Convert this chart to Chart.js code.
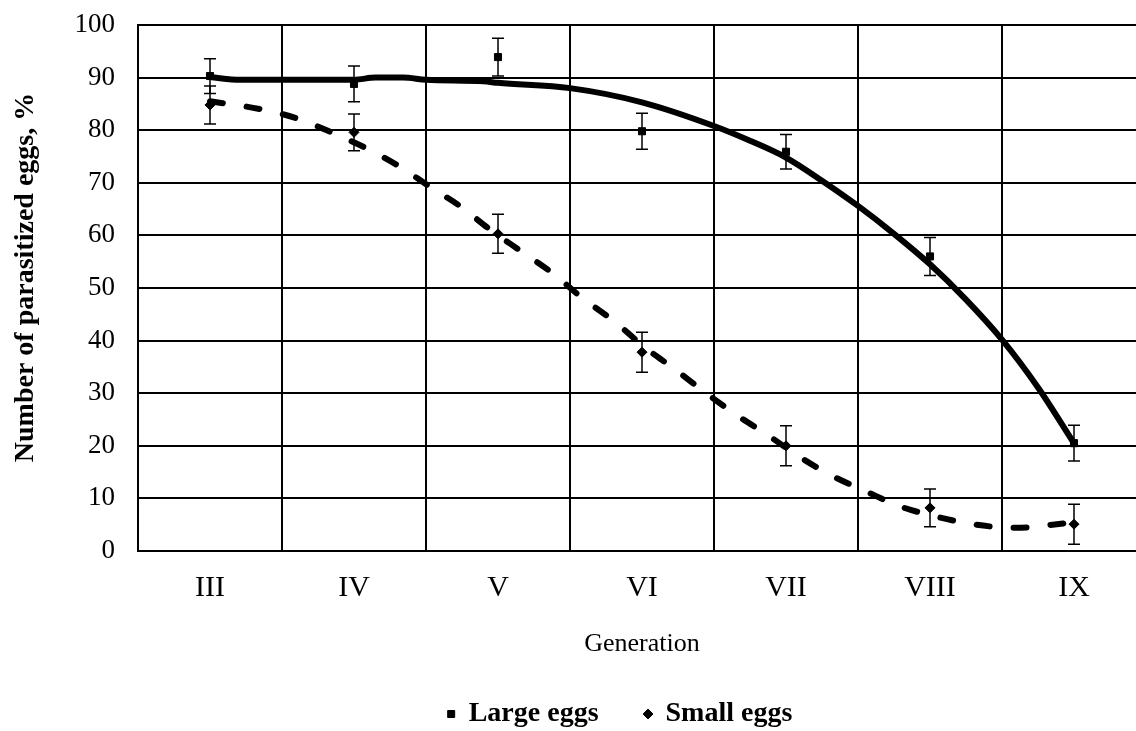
<!DOCTYPE html>
<html>
<head>
<meta charset="utf-8">
<script src="https://cdn.jsdelivr.net/npm/chart.js@4/dist/chart.umd.min.js"></script>
<style>
html, body { margin: 0; padding: 0; overflow: hidden; background: #fff; }
</style>
</head>
<body>
<canvas id="chart" width="1240" height="738"></canvas>
<script>
const generations = ['III', 'IV', 'V', 'VI', 'VII', 'VIII', 'IX'];
const largeEggs = [90.3, 88.8, 93.9, 79.8, 75.9, 56.0, 20.5];
const largeErr = [3.3, 3.4, 3.6, 3.4, 3.3, 3.6, 3.4];
const smallEggs = [84.8, 79.6, 60.3, 37.8, 20.0, 8.2, 5.1];
const smallErr = [3.6, 3.5, 3.7, 3.8, 3.8, 3.6, 3.8];

// trend lines (x = generation index, 0 = III)
const largeTrendX = [0, 0.21, 0.6, 1, 1.15, 1.34, 1.5, 1.9, 2, 2.5, 3, 3.5, 3.75, 4, 4.25, 4.5, 4.75, 5, 5.25, 5.5, 5.75, 6];
const largeTrendY = [90.1, 89.6, 89.6, 89.6, 90.0, 90.0, 89.6, 89.3, 89.0, 88.0, 85.3, 80.8, 78.0, 74.8, 70.4, 65.6, 60.3, 54.5, 47.8, 40.2, 31.1, 20.5];
const smallTrendX = [0, 0.35, 0.61, 0.85, 1.09, 1.31, 1.53, 1.74, 1.95, 2.16, 2.38, 2.59, 2.81, 3.02, 3.23, 3.44, 3.66, 3.88, 4.1, 4.32, 4.55, 4.79, 5.05, 5.32, 5.6, 5.88, 6];
const smallTrendY = [85.5, 84.0, 82.2, 79.5, 76.5, 73.2, 69.2, 65.5, 61.0, 57.0, 52.8, 48.0, 43.6, 38.7, 34.5, 30.1, 25.8, 21.9, 17.8, 14.3, 11.4, 8.5, 6.5, 5.0, 4.4, 5.1, 5.5];

const serif = 'Liberation Serif';

// draws the +/- whiskers under the markers
const errorBars = {
    id: 'errorBars',
    beforeDatasetsDraw(chart) {
        const ctx = chart.ctx;
        const y = chart.scales.y;
        chart.data.datasets.forEach((ds, i) => {
            if (!ds.errors) return;
            const meta = chart.getDatasetMeta(i);
            ctx.save();
            ctx.strokeStyle = '#000';
            ctx.lineWidth = 1.5;
            meta.data.forEach((pt, j) => {
                const top = y.getPixelForValue(ds.data[j] + ds.errors[j]);
                const bot = y.getPixelForValue(ds.data[j] - ds.errors[j]);
                ctx.beginPath();
                ctx.moveTo(pt.x, top); ctx.lineTo(pt.x, bot);
                ctx.moveTo(pt.x - 6, top); ctx.lineTo(pt.x + 6, top);
                ctx.moveTo(pt.x - 6, bot); ctx.lineTo(pt.x + 6, bot);
                ctx.stroke();
            });
            ctx.restore();
        });
    }
};

const ctx = document.getElementById('chart').getContext('2d');
new Chart(ctx, {
    type: 'line',
    data: {
        labels: generations,
        datasets: [
            {
                label: 'Large eggs',
                data: largeEggs,
                errors: largeErr,
                showLine: false,
                pointStyle: 'rect',
                pointRadius: 5,
                backgroundColor: '#000',
                borderColor: '#000',
                xAxisID: 'x'
            },
            {
                label: 'Small eggs',
                data: smallEggs,
                errors: smallErr,
                showLine: false,
                pointStyle: 'rectRot',
                pointRadius: 5,
                backgroundColor: '#000',
                borderColor: '#000',
                xAxisID: 'x'
            },
            {
                label: 'trend large',
                data: largeTrendX.map((x, i) => ({ x: x, y: largeTrendY[i] })),
                xAxisID: 'xt',
                borderColor: '#000',
                borderWidth: 6,
                pointRadius: 0,
                cubicInterpolationMode: 'monotone',
                borderCapStyle: 'round',
                borderJoinStyle: 'round'
            },
            {
                label: 'trend small',
                data: smallTrendX.map((x, i) => ({ x: x, y: smallTrendY[i] })),
                xAxisID: 'xt',
                borderColor: '#000',
                borderWidth: 6,
                borderDash: [13, 24],
                pointRadius: 0,
                cubicInterpolationMode: 'monotone',
                borderCapStyle: 'round',
                borderJoinStyle: 'round'
            }
        ]
    },
    options: {
        responsive: false,
        animation: false,
        layout: { padding: 0 },
        plugins: {
            legend: {
                position: 'bottom',
                labels: {
                    filter: item => item.datasetIndex < 2,
                    usePointStyle: true,
                    boxWidth: 7,
                    boxHeight: 7,
                    padding: 46,
                    color: '#000',
                    font: { family: serif, size: 28, weight: 'bold' }
                }
            },
            tooltip: { enabled: false }
        },
        scales: {
            x: {
                type: 'category',
                offset: true,
                grid: { offset: true, color: '#000', lineWidth: 2, drawTicks: false },
                border: { color: '#000', width: 2 },
                ticks: { color: '#000', padding: 19, font: { family: serif, size: 30 } },
                title: {
                    display: true,
                    text: 'Generation',
                    color: '#000',
                    font: { family: serif, size: 26, lineHeight: 0.75 },
                    padding: { top: 0, bottom: 0 }
                },
                afterFit(s) { s.height = 103; }
            },
            xt: { type: 'linear', min: -0.5, max: 6.5, display: false },
            y: {
                min: 0,
                max: 100,
                ticks: { stepSize: 10, padding: 23, color: '#000', font: { family: serif, size: 27 } },
                grid: { color: '#000', lineWidth: 2, drawTicks: false },
                border: { color: '#000', width: 2 },
                title: {
                    display: true,
                    text: '   Number of parasitized eggs, %',
                    color: '#000',
                    font: { family: serif, size: 28, weight: 'bold' },
                    padding: { top: 9, bottom: 0 }
                },
                afterFit(s) {
                    s.width = 138;
                    s.paddingTop = 25;
                    s.paddingBottom = 0;
                }
            },
            yR: {
                position: 'right',
                grid: { display: false },
                ticks: { display: false },
                border: { display: false },
                afterFit(s) { s.width = 94; }
            }
        }
    },
    plugins: [errorBars]
});
</script>
</body>
</html>
